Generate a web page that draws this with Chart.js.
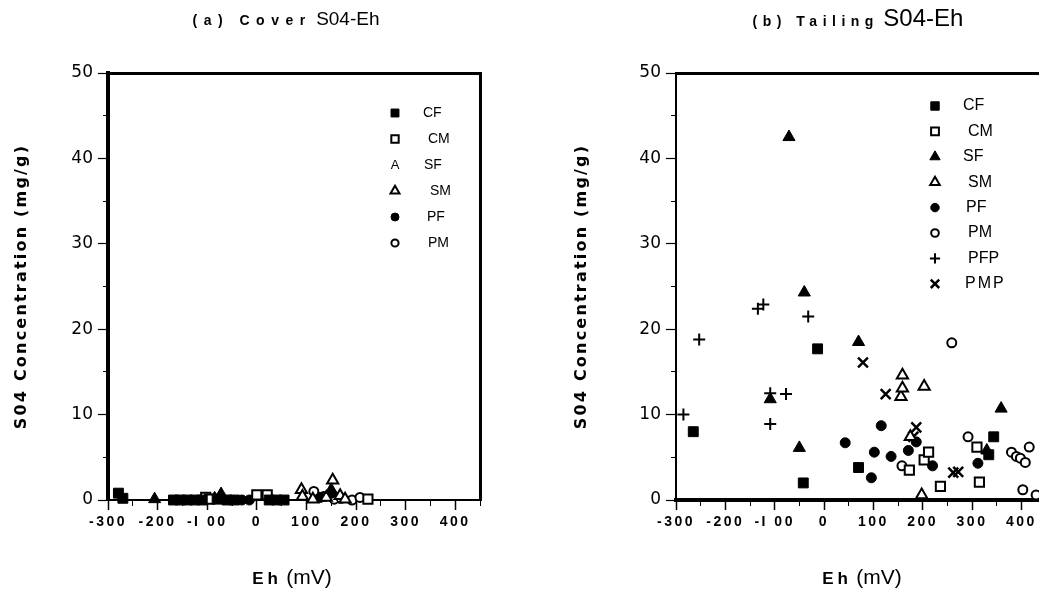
<!DOCTYPE html>
<html>
<head>
<meta charset="utf-8">
<script src="https://cdn.jsdelivr.net/npm/chart.js@4.4.1/dist/chart.umd.min.js"></script>
<style>
html,body{margin:0;padding:0;background:#fff;overflow:hidden;width:1039px;height:593px;position:relative;}
#wrapA{position:absolute;left:0;top:0;width:520px;height:593px;}
#wrapB{position:absolute;left:520px;top:0;width:560px;height:593px;}
.t{position:absolute;white-space:nowrap;text-align:center;font-family:'Liberation Sans',Arial,sans-serif;color:#000;line-height:1;}
.b{font-weight:bold;}
</style>
</head>
<body>
<div id="wrapA"><canvas id="cA" width="520" height="593"></canvas></div>
<div id="wrapB"><canvas id="cB" width="560" height="593"></canvas></div>

<div class="t" style="left:86px;width:400px;top:9px;"><span class="b" style="font-size:14px;letter-spacing:6.5px;">(a) Cover</span> <span style="font-size:19px;">S04-Eh</span></div>
<div class="t" style="left:658px;width:400px;top:6px;"><span class="b" style="font-size:14px;letter-spacing:5.5px;">(b) Tailing</span> <span style="font-size:24px;">S04-Eh</span></div>
<div class="t" style="left:92px;width:400px;top:566px;"><span class="b" style="font-size:17px;letter-spacing:4px;">Eh</span> <span style="font-size:21px;">(mV)</span></div>
<div class="t" style="left:662px;width:400px;top:566px;"><span class="b" style="font-size:17px;letter-spacing:4px;">Eh</span> <span style="font-size:21px;">(mV)</span></div>

<script>
// ---------- tick labels ----------
const EH_TICK_LABELS = ['-300', '-200', '-I 00', '0', '100', '200', '300', '400'];
const SO4_TICK_LABELS = ['0', '10', '20', '30', '40', '50'];
const Y_TITLE = 'S04 Concentration (mg/g)';

// ---------- (a) Cover ----------
const COVER_CF_EH  = [-279, -270, -168, -155, -140, -125, -110, -80, -60, -45, 25, 40, 55];
const COVER_CF_SO4 = [0.8, 0.2, 0, 0, 0, 0, 0, 0.1, 0, 0, 0, 0, 0];
const COVER_CM_EH  = [-103, -95, 0, 21, 224];
const COVER_CM_SO4 = [0.3, 0.1, 0.6, 0.6, 0.1];
const COVER_SF_EH  = [-206, -85, -72, 150];
const COVER_SF_SO4 = [0.1, 0.2, 0.7, 1.2];
const COVER_SM_EH  = [90, 92, 113, 140, 153, 168, 178];
const COVER_SM_SO4 = [1.2, 0.4, 0.1, 0.3, 2.3, 0.5, 0.1];
const COVER_PF_EH  = [-30, -15, 128, 150];
const COVER_PF_SO4 = [0, 0, 0.3, 0.8];
const COVER_PM_EH  = [115, 135, 156, 170, 192, 208];
const COVER_PM_SO4 = [1.0, 0.4, 0.1, 0.2, 0.0, 0.3];

// ---------- (b) Tailing ----------
const TAIL_CF_EH   = [-265, -42, -13, 70, 334, 344];
const TAIL_CF_SO4  = [8.0, 2.0, 17.7, 3.8, 5.3, 7.4];
const TAIL_CM_EH   = [173, 203, 212, 236, 310, 315];
const TAIL_CM_SO4  = [3.5, 4.7, 5.6, 1.6, 6.2, 2.1];
const TAIL_SF_EH   = [-109, -71, -50, -40, 70, 330, 359];
const TAIL_SF_SO4  = [11.8, 42.5, 6.1, 24.3, 18.5, 5.8, 10.7];
const TAIL_SM_EH   = [156, 159, 159, 175, 198, 203];
const TAIL_SM_SO4  = [12.1, 13.1, 14.6, 7.4, 0.6, 13.3];
const TAIL_PF_EH   = [43, 96, 102, 116, 136, 171, 187, 220, 312];
const TAIL_PF_SO4  = [6.7, 2.6, 5.6, 8.7, 5.1, 5.8, 6.8, 4.0, 4.3];
const TAIL_PM_EH   = [158, 259, 292, 380, 390, 398, 403, 408, 416, 430];
const TAIL_PM_SO4  = [4.0, 18.4, 7.4, 5.6, 5.1, 4.9, 1.2, 4.4, 6.2, 0.6];
const TAIL_PFP_EH  = [-285, -253, -134, -123, -109, -109, -77, -32];
const TAIL_PFP_SO4 = [10.0, 18.8, 22.4, 22.9, 12.5, 8.9, 12.4, 21.5];
const TAIL_PMP_EH  = [79, 125, 181, 187, 262, 272];
const TAIL_PMP_SO4 = [16.1, 12.4, 7.4, 8.5, 3.2, 3.3];

// ---------- marker styles ----------
const MARKERS = {
  CF:  {style: 'rect',     r: 7, fill: '#000', bw: 1},
  CM:  {style: 'rect',     r: 6.5, fill: '#fff', bw: 2},
  SF:  {style: 'triangle', r: 7, fill: '#000', bw: 1},
  SM:  {style: 'triangle', r: 6.5, fill: '#fff', bw: 2},
  PF:  {style: 'circle',   r: 5, fill: '#000', bw: 1},
  PM:  {style: 'circle',   r: 4.5, fill: '#fff', bw: 2},
  PFP: {style: 'cross',    r: 6, fill: '#000', bw: 2},
  PMP: {style: 'crossRot', r: 7, fill: '#000', bw: 2.5}
};

function series(label, eh, so4) { return {label, eh, so4}; }

const COVER_SERIES = [
  series('CF', COVER_CF_EH, COVER_CF_SO4),
  series('CM', COVER_CM_EH, COVER_CM_SO4),
  series('SF', COVER_SF_EH, COVER_SF_SO4),
  series('SM', COVER_SM_EH, COVER_SM_SO4),
  series('PF', COVER_PF_EH, COVER_PF_SO4),
  series('PM', COVER_PM_EH, COVER_PM_SO4)
];
const TAIL_SERIES = [
  series('CF', TAIL_CF_EH, TAIL_CF_SO4),
  series('CM', TAIL_CM_EH, TAIL_CM_SO4),
  series('SF', TAIL_SF_EH, TAIL_SF_SO4),
  series('SM', TAIL_SM_EH, TAIL_SM_SO4),
  series('PF', TAIL_PF_EH, TAIL_PF_SO4),
  series('PM', TAIL_PM_EH, TAIL_PM_SO4),
  series('PFP', TAIL_PFP_EH, TAIL_PFP_SO4),
  series('PMP', TAIL_PMP_EH, TAIL_PMP_SO4)
];

// ---------- plugins ----------
function wrapSpacing(scale, method, sp) {
  const key = '__sp_' + method;
  if (scale[key]) return;
  scale[key] = true;
  const orig = scale[method];
  scale[method] = function () {
    const c = this.ctx;
    c.save();
    c.letterSpacing = sp;
    const r = orig.apply(this, arguments);
    c.restore();
    return r;
  };
}
const spacingPlugin = {
  id: 'spacing',
  beforeDraw(chart) {
    wrapSpacing(chart.scales.x, 'drawLabels', '2.5px');
    wrapSpacing(chart.scales.y, 'drawTitle', '2.2px');
  }
};

const legendPlugin = {
  id: 'sheetLegend',
  afterDatasetsDraw(chart, args, opts) {
    const ctx = chart.ctx;
    ctx.save();
    opts.items.forEach((it, i) => {
      const y = opts.y0 + i * opts.dy;
      const m = MARKERS[it.key];
      if (it.glyph) {
        ctx.fillStyle = '#000';
        ctx.font = opts.glyphFont;
        ctx.textAlign = 'center';
        ctx.textBaseline = 'middle';
        ctx.fillText(it.glyph, opts.mx, y);
      } else {
        ctx.fillStyle = m.fill;
        ctx.strokeStyle = '#000';
        ctx.lineWidth = m.bw;
        Chart.helpers.drawPoint(ctx, {pointStyle: m.style, radius: m.r * opts.scale, borderWidth: m.bw, rotation: 0}, opts.mx, y);
      }
      ctx.fillStyle = '#000';
      ctx.font = opts.font;
      ctx.textAlign = 'left';
      ctx.textBaseline = 'middle';
      ctx.letterSpacing = it.sp || '0px';
      ctx.fillText(it.key, opts.lx + (it.dx || 0), y);
      ctx.letterSpacing = '0px';
    });
    ctx.restore();
  }
};

function buildChart(canvasId, spec) {
  const datasets = spec.series.map(s => {
    const m = MARKERS[s.label];
    return {
      label: s.label,
      data: s.eh.map((x, i) => ({x: x, y: s.so4[i]})),
      pointStyle: m.style,
      pointRadius: m.r,
      pointBackgroundColor: m.fill,
      pointBorderColor: '#000',
      pointBorderWidth: m.bw,
      showLine: false,
      clip: false
    };
  });
  const X_MIN = -300, X_MAX = 450, Y_MIN = 0, Y_MAX = 50;
  const scales = {
    x: {
      type: 'linear', position: 'bottom', min: X_MIN, max: X_MAX,
      afterFit: s => { s.height = 40; },
      ticks: {
        stepSize: 100, includeBounds: false, autoSkip: false, maxRotation: 0,
        color: '#000', padding: 4,
        font: {family: "'Liberation Sans', Arial, sans-serif", size: 14, weight: 'bold'},
        callback: v => EH_TICK_LABELS[Math.round((v - X_MIN) / 100)]
      },
      grid: {drawOnChartArea: false, tickLength: 10, color: '#000', tickWidth: 1.5},
      border: {color: '#000', width: spec.xBorder}
    },
    xMinor: {
      type: 'linear', position: {y: 0}, min: X_MIN, max: X_MAX,
      ticks: {display: false, stepSize: 50, includeBounds: false},
      grid: {drawOnChartArea: false, tickLength: 6, color: '#000', tickWidth: 1},
      border: {display: false}
    },
    xTop: {
      type: 'linear', position: {y: Y_MAX}, min: X_MIN, max: X_MAX,
      ticks: {display: false},
      grid: {drawOnChartArea: false, drawTicks: false},
      border: {color: '#000', width: 3}
    },
    y: {
      type: 'linear', position: 'left', min: Y_MIN, max: Y_MAX,
      afterFit: s => { s.width = spec.yWidth; },
      ticks: {
        stepSize: 10, color: '#000', padding: 5,
        font: {family: "'DejaVu Sans', sans-serif", size: 17},
        callback: v => SO4_TICK_LABELS[Math.round(v / 10)]
      },
      grid: {drawOnChartArea: false, tickLength: 10, color: '#000', tickWidth: 1.2},
      border: {color: '#000', width: spec.yBorder},
      title: {
        display: true, text: Y_TITLE, color: '#000',
        font: {family: "'DejaVu Sans', sans-serif", size: 16, weight: 'bold'},
        padding: {top: spec.yTitlePad, bottom: 0}
      }
    },
    yMinor: {
      type: 'linear', position: {x: X_MIN}, min: Y_MIN, max: Y_MAX,
      ticks: {display: false, stepSize: 5},
      grid: {drawOnChartArea: false, tickLength: 5, color: '#000', tickWidth: 1},
      border: {display: false}
    }
  };
  if (spec.rightBorder) {
    scales.yRight = {
      type: 'linear', position: {x: X_MAX}, min: Y_MIN, max: Y_MAX,
      ticks: {display: false},
      grid: {drawOnChartArea: false, drawTicks: false},
      border: {color: '#000', width: 3}
    };
  }
  return new Chart(document.getElementById(canvasId), {
    type: 'scatter',
    data: {datasets},
    plugins: [spacingPlugin, legendPlugin],
    options: {
      responsive: false,
      animation: false,
      events: [],
      layout: {padding: spec.padding},
      plugins: {
        legend: {display: false},
        tooltip: {enabled: false},
        title: {display: false},
        sheetLegend: spec.legend
      },
      scales
    }
  });
}

buildChart('cA', {
  series: COVER_SERIES,
  padding: {top: 73, right: 40, bottom: 53, left: 0},
  yWidth: 108, yTitlePad: 12, xBorder: 2, yBorder: 4, rightBorder: true,
  legend: {
    mx: 395, lx: 423, y0: 113, dy: 26, scale: 0.8,
    font: "14px 'Liberation Sans Narrow', 'Liberation Sans', Arial, sans-serif",
    glyphFont: "13px 'Liberation Sans', Arial, sans-serif",
    items: [
      {key: 'CF'}, {key: 'CM', dx: 5}, {key: 'SF', glyph: 'A', dx: 1},
      {key: 'SM', dx: 7}, {key: 'PF', dx: 4}, {key: 'PM', dx: 5}
    ]
  }
});

buildChart('cB', {
  series: TAIL_SERIES,
  padding: {top: 73, right: 34, bottom: 53, left: 0},
  yWidth: 156, yTitlePad: 52, xBorder: 4, yBorder: 2, rightBorder: false,
  legend: {
    mx: 415, lx: 443, y0: 106, dy: 25.4, scale: 0.85,
    font: "16px 'Liberation Sans Narrow', 'Liberation Sans', Arial, sans-serif",
    glyphFont: "13px 'Liberation Sans', Arial, sans-serif",
    items: [
      {key: 'CF'}, {key: 'CM', dx: 5}, {key: 'SF'}, {key: 'SM', dx: 5},
      {key: 'PF', dx: 3}, {key: 'PM', dx: 5}, {key: 'PFP', dx: 5}, {key: 'PMP', dx: 2, sp: '2px'}
    ]
  }
});
</script>
</body>
</html>
